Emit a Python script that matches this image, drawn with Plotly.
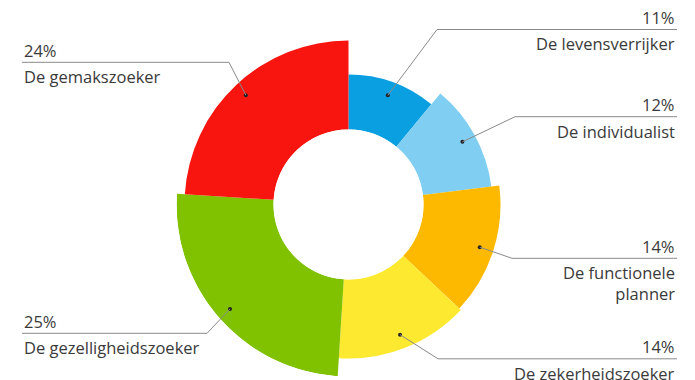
import math
import plotly.graph_objects as go

categories = ["De levensverrijker", "De individualist", "De functionele<br>planner",
              "De zekerheidszoeker", "De gezelligheidszoeker", "De gemakszoeker"]
percent = [11, 12, 14, 14, 25, 24]
percent_labels = ["11%", "12%", "14%", "14%", "25%", "24%"]
outer_radius = [130, 144, 152, 154, 172, 164]
colors = ["#0a9fe0", "#80cff2", "#fdb900", "#fde930", "#80c100", "#f81510"]

W, H = 695, 380
CX, CY = 348.5, 204.5
RMAX = 172.0
HOLE = 75.0

# angular layout from the percentages
widths = [p * 3.6 for p in percent]
mids = []
acc = 0.0
for w in widths:
    mids.append(acc + w / 2)
    acc += w

fig = go.Figure()
fig.add_trace(go.Barpolar(
    r=[o - HOLE for o in outer_radius], base=[HOLE] * len(percent),
    theta=mids, width=widths,
    marker=dict(color=colors, line=dict(width=0)),
    hoverinfo="skip", showlegend=False,
))

dot_r = [r - 14 for r in outer_radius]
fig.add_trace(go.Scatterpolar(
    r=dot_r, theta=mids, mode="markers",
    marker=dict(size=4, color="#222222"), hoverinfo="skip", showlegend=False,
))

def to_px(r, theta):
    a = math.radians(theta)
    return CX + r * math.sin(a), CY - r * math.cos(a)

def px(x):
    return x / W

def py(y):
    return 1 - y / H

# label layout: (bend x, line y, end x, side)
label_layout = [
    (437, 29.5, 677, "right"),
    (515, 116.7, 677, "right"),
    (512, 258.3, 677, "right"),
    (438, 358.8, 677, "right"),
    (207, 333.3, 22, "left"),
    (229, 62.3, 22, "left"),
]

font_family = "Open Sans"
text_color = "#3a3a3a"
line_color = "#8a8a8a"

for i, (bx, ly, ex, side) in enumerate(label_layout):
    dx, dy = to_px(dot_r[i], mids[i])
    fig.add_shape(type="path", xref="paper", yref="paper",
                  path=f"M {px(dx)},{py(dy)} L {px(bx)},{py(ly)} L {px(ex)},{py(ly)}",
                  line=dict(color=line_color, width=1))
    anchor = "right" if side == "right" else "left"
    fig.add_annotation(xref="paper", yref="paper", x=px(ex), y=py(ly + 1.5),
                       text=percent_labels[i], showarrow=False, xanchor=anchor,
                       yanchor="bottom", align=anchor,
                       font=dict(family=font_family, size=16.5, color=text_color))
    fig.add_annotation(xref="paper", yref="paper", x=px(ex), y=py(ly + 1),
                       text=categories[i], showarrow=False, xanchor=anchor,
                       yanchor="top", align=anchor,
                       font=dict(family=font_family, size=16.5, color=text_color))

fig.update_layout(
    width=W, height=H, margin=dict(l=0, r=0, t=0, b=0),
    paper_bgcolor="white", plot_bgcolor="white",
    polar=dict(
        domain=dict(x=[(CX - RMAX) / W, (CX + RMAX) / W],
                    y=[(H - CY - RMAX) / H, (H - CY + RMAX) / H]),
        hole=HOLE / RMAX,
        bgcolor="rgba(0,0,0,0)",
        bargap=0,
        radialaxis=dict(range=[HOLE, RMAX], visible=False, showgrid=False),
        angularaxis=dict(visible=False, direction="clockwise", rotation=90,
                         showgrid=False),
    ),
)

fig.write_html("out.html")
